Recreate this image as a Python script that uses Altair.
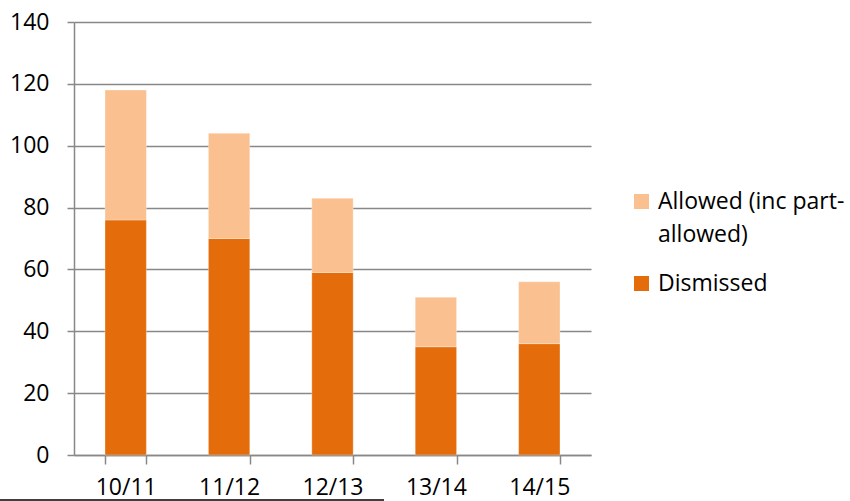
import altair as alt
import pandas as pd

# Appeals outcomes per year
years = ["10/11", "11/12", "12/13", "13/14", "14/15"]
dismissed = [76, 70, 59, 35, 36]
allowed = [42, 34, 24, 16, 20]

series = ["Allowed (inc part-allowed)", "Dismissed"]
colors = ["#FAC090", "#E46C0A"]

rows = []
for y, d, a in zip(years, dismissed, allowed):
    rows.append({"year": y, "outcome": "Dismissed", "count": d, "order": 0})
    rows.append({"year": y, "outcome": "Allowed (inc part-allowed)", "count": a, "order": 1})
df = pd.DataFrame(rows)

FONT = "Open Sans"
GRID = "#888888"
FS = 23

bars = alt.Chart(df).mark_bar(stroke="#ffffff", strokeWidth=0.6, strokeOpacity=0.5).encode(
    x=alt.X(
        "year:N",
        sort=years,
        title=None,
        scale=alt.Scale(paddingInner=0.6, paddingOuter=0.3),
        axis=alt.Axis(
            labelAngle=0,
            tickBand="extent",
            tickSize=9,
            tickColor=GRID,
            tickWidth=1.5,
            domainColor=GRID,
            domainWidth=1.5,
            labelPadding=12,
            labelFontSize=FS,
            labelFont=FONT,
            labelColor="#000000",
            grid=False,
        ),
    ),
    y=alt.Y(
        "count:Q",
        stack="zero",
        title=None,
        scale=alt.Scale(domain=[0, 140], nice=False),
        axis=alt.Axis(
            values=[0, 20, 40, 60, 80, 100, 120, 140],
            tickSize=7,
            tickColor=GRID,
            tickWidth=1.5,
            domainColor=GRID,
            domainWidth=1.5,
            gridColor=GRID,
            gridWidth=1.5,
            labelPadding=18,
            labelFontSize=FS,
            labelFont=FONT,
            labelColor="#000000",
        ),
    ),
    color=alt.Color(
        "outcome:N",
        scale=alt.Scale(domain=series, range=colors),
        legend=alt.Legend(
            title=None,
            orient="none",
            legendX=556,
            legendY=168,
            symbolType="square",
            symbolSize=225,
            symbolStrokeWidth=0,
            labelFont=FONT,
            labelFontSize=FS,
            labelColor="#000000",
            labelLimit=300,
            labelOffset=5,
            rowPadding=25,
            labelExpr="datum.label == 'Allowed (inc part-allowed)' ? ['Allowed (inc part-', 'allowed)'] : datum.label",
        ),
    ),
    order=alt.Order("order:Q"),
)

# Thin black rule along the bottom edge
underline = alt.Chart(pd.DataFrame({"k": [0]})).mark_rule(color="#000000", strokeWidth=1.5).encode(
    x=alt.value(-74), x2=alt.value(310), y=alt.value(478)
)

chart = (
    alt.layer(bars, underline)
    .properties(
        width=517,
        height=433,
        autosize=alt.AutoSizeParams(type="none"),
        padding={"left": 74, "top": 22, "right": 259, "bottom": 46},
        background="#ffffff",
    )
    .configure(style={"guide-label": {"lineHeight": 33}})
    .configure_view(strokeWidth=0)
)

chart.save("out.html", embed_options={"renderer": "svg", "actions": False})
